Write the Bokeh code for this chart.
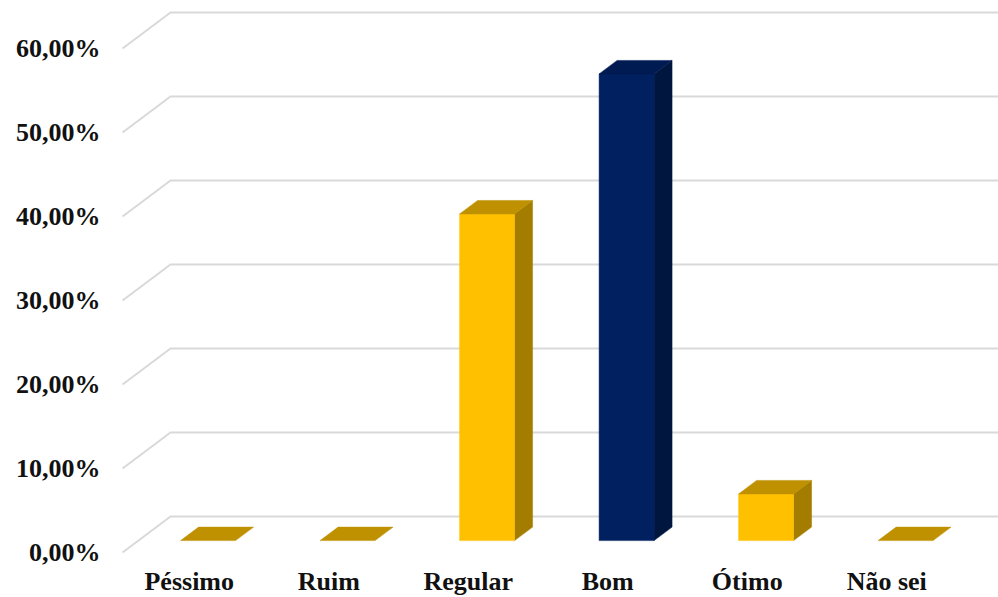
from bokeh.plotting import figure
from bokeh.models import ColumnDataSource, Range1d
from bokeh.core.properties import value
from bokeh.embed import file_html
from bokeh.resources import INLINE

# ---- data ----
categories = ["Péssimo", "Ruim", "Regular", "Bom", "Ótimo", "Não sei"]
values = [0.0, 0.0, 38.89, 55.56, 5.56, 0.0]          # percent
highlight = [False, False, False, True, False, False]
y_ticks = [0, 10, 20, 30, 40, 50, 60]
y_tick_labels = ["0,00%", "10,00%", "20,00%", "30,00%", "40,00%", "50,00%", "60,00%"]

# ---- style / 3D geometry (in data units) ----
DEPTH_X = 0.344      # floor depth along x (category units)
DEPTH_Y = 4.286      # floor depth along y (percent units)
F0, F1 = 0.33, 0.705 # bar front / back position as fraction of floor depth
BAR_W = 0.394
YEL = dict(front="#FFC000", top="#BF9000", side="#A37C00")
NAVY = dict(front="#002060", top="#001B52", side="#00163F")
GRID = "#D9D9D9"
FONT = value("Liberation Serif")

W, H = 998, 597
PX_X0, PX_PER_CAT = 122.0, 139.5   # floor front-left pixel, pixels per category
PX_Y0, PX_PER_PCT = 552.0, 8.4     # zero-line pixel, pixels per percent

p = figure(width=W, height=H,
           x_range=Range1d(-PX_X0 / PX_PER_CAT, (W - PX_X0) / PX_PER_CAT),
           y_range=Range1d(-(H - PX_Y0) / PX_PER_PCT, PX_Y0 / PX_PER_PCT),
           output_backend="svg", toolbar_location=None,
           x_axis_location=None, y_axis_location=None, min_border=0)
p.grid.visible = False
p.outline_line_color = None
p.background_fill_color = "white"

# gridlines (front diagonal + back wall)
n = len(categories)
gx, gy = [], []
for t in y_ticks:
    gx.append([0, DEPTH_X, n + DEPTH_X])
    gy.append([t, t + DEPTH_Y, t + DEPTH_Y])
p.multi_line(xs=gx, ys=gy, line_color=GRID, line_width=2)

# bars as 3D patches
xs, ys, cols = [], [], []
for i, (v, h) in enumerate(zip(values, highlight)):
    c = NAVY if h else YEL
    x0 = i + 0.5 - BAR_W / 2 + F0 * DEPTH_X
    x1 = x0 + BAR_W
    ddx = (F1 - F0) * DEPTH_X
    yf = F0 * DEPTH_Y
    yb = F1 * DEPTH_Y
    if v > 0:
        xs.append([x1, x1, x1 + ddx, x1 + ddx]); ys.append([yf, yf + v, yb + v, yb]); cols.append(c["side"])
        xs.append([x0, x1, x1, x0]); ys.append([yf, yf, yf + v, yf + v]); cols.append(c["front"])
    xs.append([x0, x1, x1 + ddx, x0 + ddx]); ys.append([yf + v, yf + v, yb + v, yb + v]); cols.append(c["top"])
src = ColumnDataSource(dict(xs=xs, ys=ys, color=cols))
p.patches("xs", "ys", source=src, fill_color="color", line_color="color", line_width=0.5)

# y tick labels
ysrc = ColumnDataSource(dict(x=[-0.158] * len(y_ticks), y=y_ticks, t=y_tick_labels))
p.text("x", "y", text="t", source=ysrc, text_font=FONT, text_font_style="bold",
       text_font_size="26px", text_color="#111111", text_align="right", text_baseline="middle")

# category labels
csrc = ColumnDataSource(dict(x=[i + 0.5 for i in range(n)], y=[-3.45] * n, t=categories))
p.text("x", "y", text="t", source=csrc, text_font=FONT, text_font_style="bold",
       text_font_size="26px", text_color="#111111", text_align="center",
       text_baseline="middle", x_offset=-3)

open("out.html", "w").write(file_html(p, INLINE))
